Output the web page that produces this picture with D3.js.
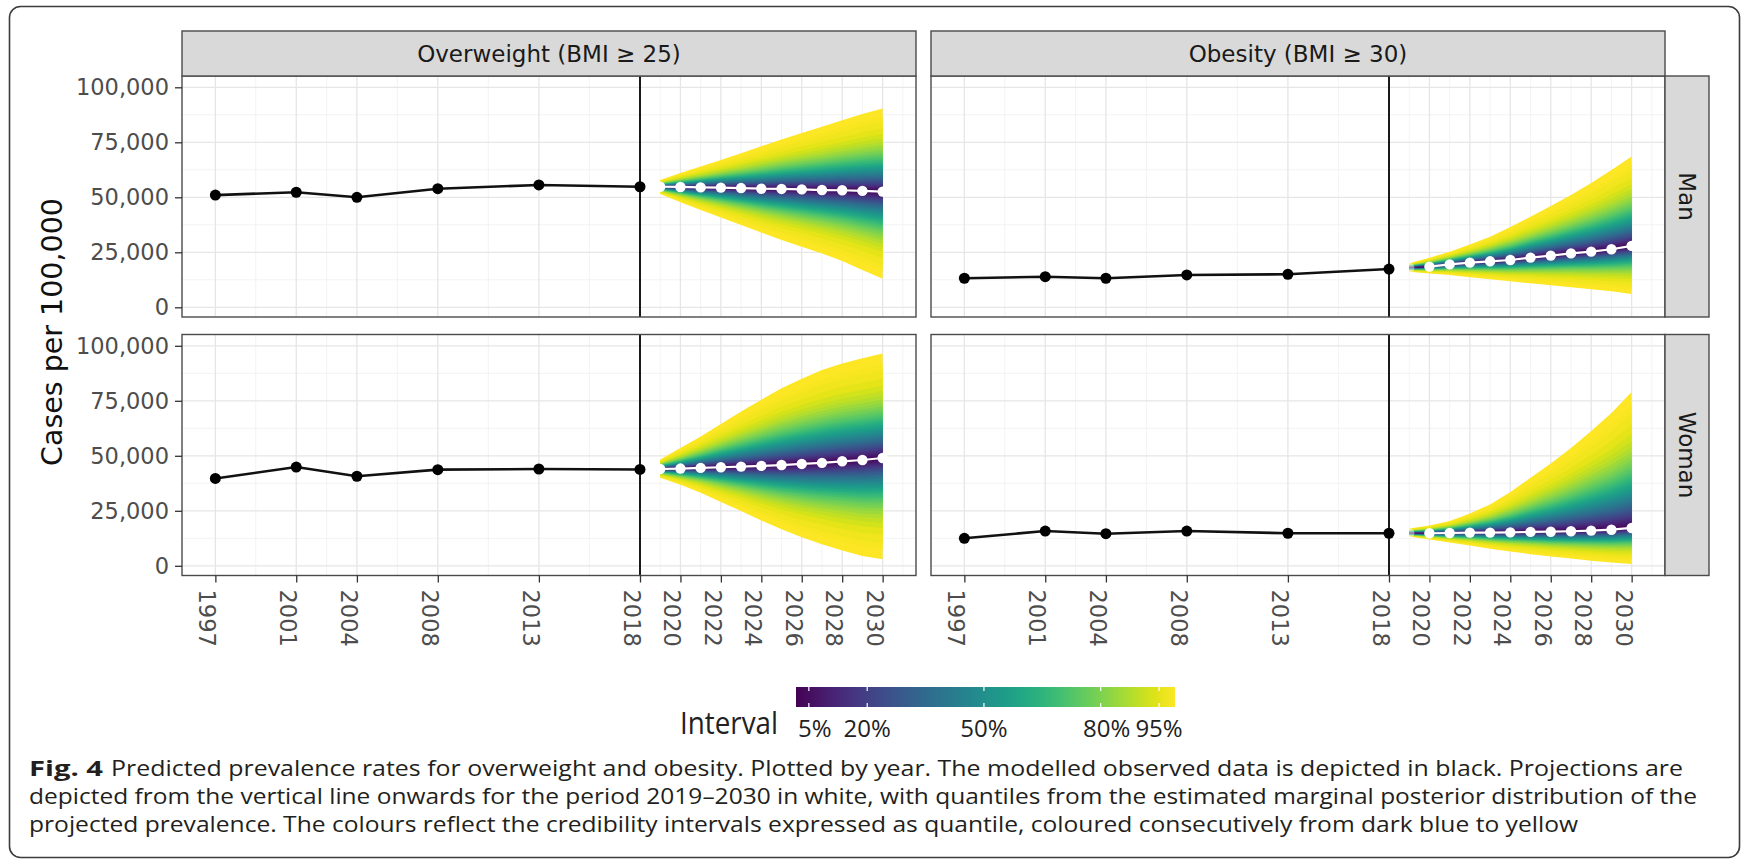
<!DOCTYPE html>
<html>
<head>
<meta charset="utf-8">
<script src="https://cdn.jsdelivr.net/npm/d3@7"></script>
<style>
  body { margin: 0; background: #fff; }
  svg { display: block; }
</style>
</head>
<body>
<div id="okvir"></div>
<script>
// ---- data (cases per 100,000) ----
const observedYears = [1997, 2001, 2004, 2008, 2013, 2018];
const projYears = [2019, 2020, 2021, 2022, 2023, 2024, 2025, 2026, 2027, 2028, 2029, 2030];
const xTicks = [1997, 2001, 2004, 2008, 2013, 2018, 2020, 2022, 2024, 2026, 2028, 2030];
const xMinor = [1999, 2002.5, 2006, 2010.5, 2015.5, 2019, 2021, 2023, 2025, 2027, 2029, 2031];
const yTicks = [0, 25000, 50000, 75000, 100000];
const yMinor = [12500, 37500, 62500, 87500];
const conditions = ["Overweight (BMI \u2265 25)", "Obesity (BMI \u2265 30)"];
const sexes = ["Man", "Woman"];
const cutYear = 2018;

// observed, projected median and outermost interval bounds
const overweightManObs = [51000, 52300, 50000, 53900, 55600, 54800];
const overweightManMed = [54800, 54700, 54500, 54400, 54200, 53900, 53800, 53600, 53300, 53200, 52900, 52600];
const overweightManHi  = [57900, 61000, 64000, 67000, 70000, 73200, 76300, 79200, 82100, 85000, 87900, 90400];
const overweightManLo  = [51500, 47800, 44200, 40800, 37400, 34000, 30600, 27500, 24500, 21000, 17000, 13000];

const overweightWomanObs = [39700, 44900, 40700, 43700, 44000, 43800];
const overweightWomanMed = [44000, 44200, 44500, 44800, 45100, 45400, 45800, 46300, 46800, 47500, 48100, 49000];
const overweightWomanHi  = [48300, 53500, 58800, 64500, 70100, 75500, 80700, 85000, 89000, 92000, 94300, 96500];
const overweightWomanLo  = [40000, 36800, 33200, 29000, 24900, 20600, 16600, 13000, 9800, 7000, 4500, 3000];

const obesityManObs = [13200, 13900, 13200, 14700, 15000, 17400];
const obesityManMed = [18000, 18500, 19500, 20300, 20900, 21500, 22600, 23500, 24500, 25300, 26400, 27900];
const obesityManHi  = [20000, 22500, 25300, 28500, 32100, 36500, 41200, 46000, 51000, 56500, 62400, 68500];
const obesityManLo  = [16200, 15400, 14700, 13700, 12700, 11800, 10900, 10000, 9100, 8200, 7300, 6000];

const obesityWomanObs = [12500, 15800, 14600, 15800, 14800, 14800];
const obesityWomanMed = [14800, 14800, 14900, 15100, 15100, 15200, 15400, 15500, 15700, 16000, 16400, 17200];
const obesityWomanHi  = [16900, 18300, 20400, 23800, 27900, 33500, 40000, 46500, 53500, 61300, 69400, 79000];
const obesityWomanLo  = [13300, 12000, 10600, 9200, 7800, 6500, 5300, 4200, 3300, 2300, 1500, 800];

// credibility interval levels (%) and their half-width relative to the outermost (99%) interval
const intervalLevels = [2.5, 5, 7.5, 10, 12.5, 15, 17.5, 20, 22.5, 25, 27.5, 30, 32.5, 35, 37.5, 40,
                        42.5, 45, 47.5, 50, 52.5, 55, 57.5, 60, 62.5, 65, 67.5, 70, 72.5, 75, 77.5,
                        80, 82.5, 85, 87.5, 90, 92.5, 95, 97, 98, 99];
const bandRatio = [0.0122, 0.0243, 0.0365, 0.0488, 0.0611, 0.0734, 0.0858, 0.0983, 0.1110, 0.1237,
                   0.1366, 0.1496, 0.1628, 0.1762, 0.1898, 0.2036, 0.2177, 0.2321, 0.2468, 0.2619,
                   0.2773, 0.2933, 0.3097, 0.3267, 0.3444, 0.3628, 0.3821, 0.4024, 0.4238, 0.4466,
                   0.4710, 0.4976, 0.5266, 0.5589, 0.5956, 0.6386, 0.6912, 0.7609, 0.8425, 0.9031, 1.0];
const legendBreaks = [5, 20, 50, 80, 95];

const captionLines = [
  "Predicted prevalence rates for overweight and obesity. Plotted by year. The modelled observed data is depicted in black. Projections are",
  "depicted from the vertical line onwards for the period 2019\u20132030 in white, with quantiles from the estimated marginal posterior distribution of the",
  "projected prevalence. The colours reflect the credibility intervals expressed as quantile, coloured consecutively from dark blue to yellow"
];

const panels = [
  { row: 0, col: 0, obs: overweightManObs, med: overweightManMed, hi: overweightManHi, lo: overweightManLo, faintFirst: false },
  { row: 0, col: 1, obs: obesityManObs, med: obesityManMed, hi: obesityManHi, lo: obesityManLo, faintFirst: true },
  { row: 1, col: 0, obs: overweightWomanObs, med: overweightWomanMed, hi: overweightWomanHi, lo: overweightWomanLo, faintFirst: false },
  { row: 1, col: 1, obs: obesityWomanObs, med: obesityWomanMed, hi: obesityWomanHi, lo: obesityWomanLo, faintFirst: true }
];

// ---- layout ----
const W = 1745, H = 864;
const dim = {
  left: [182, 931],
  top: [76, 334.5],
  w: 734,
  h: 241,
  stripTop: 31,
  stripW: 44
};

const svg = d3.select("#okvir").append("svg")
  .attr("width", W).attr("height", H)
  .style("font-family", "'DejaVu Sans', sans-serif");

// journal frame
svg.append("rect")
  .attr("x", 9.5).attr("y", 6.5)
  .attr("width", 1730).attr("height", 851)
  .attr("rx", 11)
  .attr("fill", "none").attr("stroke", "#3c3c3c").attr("stroke-width", 1.6);

const x = d3.scaleLinear().domain([1995.35, 2031.65]).range([0, dim.w]);
const y = d3.scaleLinear().domain([-4409, 105136]).range([dim.h, 0]);
const color = d3.scaleSequential(d3.interpolateViridis).domain([1.7, 99.1]);

const area = d3.area()
  .x(d => x(d.year))
  .y0(d => y(d.lo))
  .y1(d => y(d.hi));
const line = d3.line()
  .x(d => x(d.year))
  .y(d => y(d.v));

panels.forEach((p, pi) => {
  const g = svg.append("g")
    .attr("transform", `translate(${dim.left[p.col]},${dim.top[p.row]})`);

  g.append("clipPath").attr("id", "clip" + pi)
    .append("rect").attr("width", dim.w).attr("height", dim.h);

  g.append("rect").attr("width", dim.w).attr("height", dim.h).attr("fill", "#fff");

  // grid
  g.selectAll(".vminor").data(xMinor.filter(v => x(v) > 0 && x(v) < dim.w)).join("line")
    .attr("x1", d => x(d)).attr("x2", d => x(d)).attr("y1", 0).attr("y2", dim.h)
    .attr("stroke", "#f2f2f2").attr("stroke-width", 0.9);
  g.selectAll(".hminor").data(yMinor).join("line")
    .attr("x1", 0).attr("x2", dim.w).attr("y1", d => y(d)).attr("y2", d => y(d))
    .attr("stroke", "#f2f2f2").attr("stroke-width", 0.9);
  g.selectAll(".vmajor").data(xTicks).join("line")
    .attr("x1", d => x(d)).attr("x2", d => x(d)).attr("y1", 0).attr("y2", dim.h)
    .attr("stroke", "#e6e6e6").attr("stroke-width", 1.3);
  g.selectAll(".hmajor").data(yTicks).join("line")
    .attr("x1", 0).attr("x2", dim.w).attr("y1", d => y(d)).attr("y2", d => y(d))
    .attr("stroke", "#e6e6e6").attr("stroke-width", 1.3);

  // fan of credibility intervals, widest first
  const fan = g.append("g").attr("clip-path", `url(#clip${pi})`);
  for (let k = intervalLevels.length - 1; k >= 0; k--) {
    const r = bandRatio[k];
    const pts = projYears.map((yr, i) => ({
      year: yr,
      lo: p.med[i] - r * (p.med[i] - p.lo[i]),
      hi: p.med[i] + r * (p.hi[i] - p.med[i])
    }));
    fan.append("path").attr("d", area(pts)).attr("fill", color(intervalLevels[k]));
  }

  // vertical line at last observed year
  g.append("line")
    .attr("x1", x(cutYear)).attr("x2", x(cutYear))
    .attr("y1", 0).attr("y2", dim.h)
    .attr("stroke", "#1a1a1a").attr("stroke-width", 2);

  // observed
  const obsPts = observedYears.map((yr, i) => ({ year: yr, v: p.obs[i] }));
  g.append("path").attr("d", line(obsPts))
    .attr("fill", "none").attr("stroke", "#111").attr("stroke-width", 2.6);
  g.selectAll(".obs").data(obsPts).join("circle")
    .attr("cx", d => x(d.year)).attr("cy", d => y(d.v)).attr("r", 5.5)
    .attr("fill", "#000");

  // projected median
  const medPts = projYears.map((yr, i) => ({ year: yr, v: p.med[i] }));
  g.append("path").attr("d", line(medPts.slice(p.faintFirst ? 1 : 0)))
    .attr("fill", "none").attr("stroke", "#fff").attr("stroke-width", 2.2);
  g.selectAll(".med").data(medPts).join("circle")
    .attr("cx", d => x(d.year)).attr("cy", d => y(d.v)).attr("r", 5.2)
    .attr("fill", "#fff")
    .attr("opacity", (d, i) => (p.faintFirst && i === 0) ? 0.45 : 1);

  // panel border
  g.append("rect").attr("width", dim.w).attr("height", dim.h)
    .attr("fill", "none").attr("stroke", "#4a4a4a").attr("stroke-width", 1.4);

  // axes
  if (p.col === 0) {
    const ax = g.append("g").call(
      d3.axisLeft(y).tickValues(yTicks).tickSize(7).tickPadding(6).tickFormat(d3.format(","))
    );
    ax.select(".domain").remove();
    ax.selectAll(".tick line").attr("stroke", "#333").attr("stroke-width", 1.3);
    ax.selectAll(".tick text")
      .attr("fill", "#4d4d4d").style("font-size", "22.5px")
      .style("font-family", "'DejaVu Sans', sans-serif");
  }
  if (p.row === 1) {
    const ax = g.append("g").attr("transform", `translate(0,${dim.h})`).call(
      d3.axisBottom(x).tickValues(xTicks).tickSize(7).tickFormat(d3.format("d"))
    );
    ax.select(".domain").remove();
    ax.selectAll(".tick line").attr("stroke", "#333").attr("stroke-width", 1.3);
    ax.selectAll(".tick text")
      .attr("transform", "rotate(90)")
      .attr("x", 14).attr("y", 0).attr("dy", "0.73em")
      .attr("text-anchor", "start")
      .attr("fill", "#4d4d4d").style("font-size", "22.5px")
      .style("font-family", "'DejaVu Sans', sans-serif");
  }
});

// top strips
conditions.forEach((c, ci) => {
  const s = svg.append("g").attr("transform", `translate(${dim.left[ci]},${dim.stripTop})`);
  s.append("rect")
    .attr("width", dim.w).attr("height", dim.top[0] - dim.stripTop)
    .attr("fill", "#d9d9d9").attr("stroke", "#4a4a4a").attr("stroke-width", 1.4);
  s.append("text")
    .attr("x", dim.w / 2).attr("y", (dim.top[0] - dim.stripTop) / 2)
    .attr("text-anchor", "middle").attr("dominant-baseline", "central")
    .attr("fill", "#1a1a1a").style("font-size", "23px")
    .text(c);
});

// right strips
sexes.forEach((sx, ri) => {
  const xs = dim.left[1] + dim.w;
  const s = svg.append("g").attr("transform", `translate(${xs},${dim.top[ri]})`);
  s.append("rect")
    .attr("width", dim.stripW).attr("height", dim.h)
    .attr("fill", "#d9d9d9").attr("stroke", "#4a4a4a").attr("stroke-width", 1.4);
  s.append("text")
    .attr("transform", `translate(${dim.stripW / 2},${dim.h / 2}) rotate(90)`)
    .attr("text-anchor", "middle").attr("dominant-baseline", "central")
    .attr("fill", "#1a1a1a").style("font-size", "23px")
    .text(sx);
});

// y axis title
svg.append("text")
  .attr("transform", "translate(62,332) rotate(-90)")
  .attr("text-anchor", "middle")
  .attr("fill", "#111").style("font-size", "28.5px")
  .text("Cases per 100,000");

// legend: colour bar
const legX = d3.scaleLinear().domain([1.7, 99.1]).range([796, 1175]);
const barY = 687, barH = 20;
const defs = svg.append("defs");
const grad = defs.append("linearGradient").attr("id", "viridisBar");
d3.range(0, 1.0001, 0.05).forEach(t => {
  grad.append("stop").attr("offset", t).attr("stop-color", d3.interpolateViridis(t));
});
svg.append("rect")
  .attr("x", legX(1.7)).attr("y", barY)
  .attr("width", legX(99.1) - legX(1.7)).attr("height", barH)
  .attr("fill", "url(#viridisBar)");
legendBreaks.forEach(b => {
  svg.append("line").attr("x1", legX(b)).attr("x2", legX(b))
    .attr("y1", barY).attr("y2", barY + 4)
    .attr("stroke", "#fff").attr("stroke-width", 1.2);
  svg.append("line").attr("x1", legX(b)).attr("x2", legX(b))
    .attr("y1", barY + barH - 4).attr("y2", barY + barH)
    .attr("stroke", "#fff").attr("stroke-width", 1.2);
});
const labelNudge = { 5: 6, 20: 0, 50: 0, 80: 6, 95: 0 };
svg.selectAll(".legLab").data(legendBreaks).join("text")
  .attr("x", d => legX(d) + labelNudge[d]).attr("y", 737)
  .attr("text-anchor", "middle")
  .attr("fill", "#222").style("font-family", "'Open Sans', sans-serif").style("font-size", "24px")
  .text(d => d + "%");
svg.append("text")
  .attr("x", 680).attr("y", 734)
  .attr("textLength", 98).attr("lengthAdjust", "spacingAndGlyphs")
  .attr("fill", "#222").style("font-family", "'Open Sans', sans-serif").style("font-size", "31px")
  .text("Interval");

// caption
const cap = svg.append("g").style("font-family", "'Open Sans', sans-serif").style("font-size", "22px").attr("fill", "#231f20");
cap.append("text").attr("x", 29).attr("y", 776)
  .attr("textLength", 74).attr("lengthAdjust", "spacingAndGlyphs")
  .style("font-weight", "bold").text("Fig. 4");
const capX = [111, 29, 29];
const capEnd = [1683, 1697, 1578];
const capBase = [776, 804, 832];
captionLines.forEach((t, i) => {
  cap.append("text").attr("x", capX[i]).attr("y", capBase[i])
    .attr("textLength", capEnd[i] - capX[i]).attr("lengthAdjust", "spacingAndGlyphs")
    .text(t);
});
</script>
</body>
</html>
